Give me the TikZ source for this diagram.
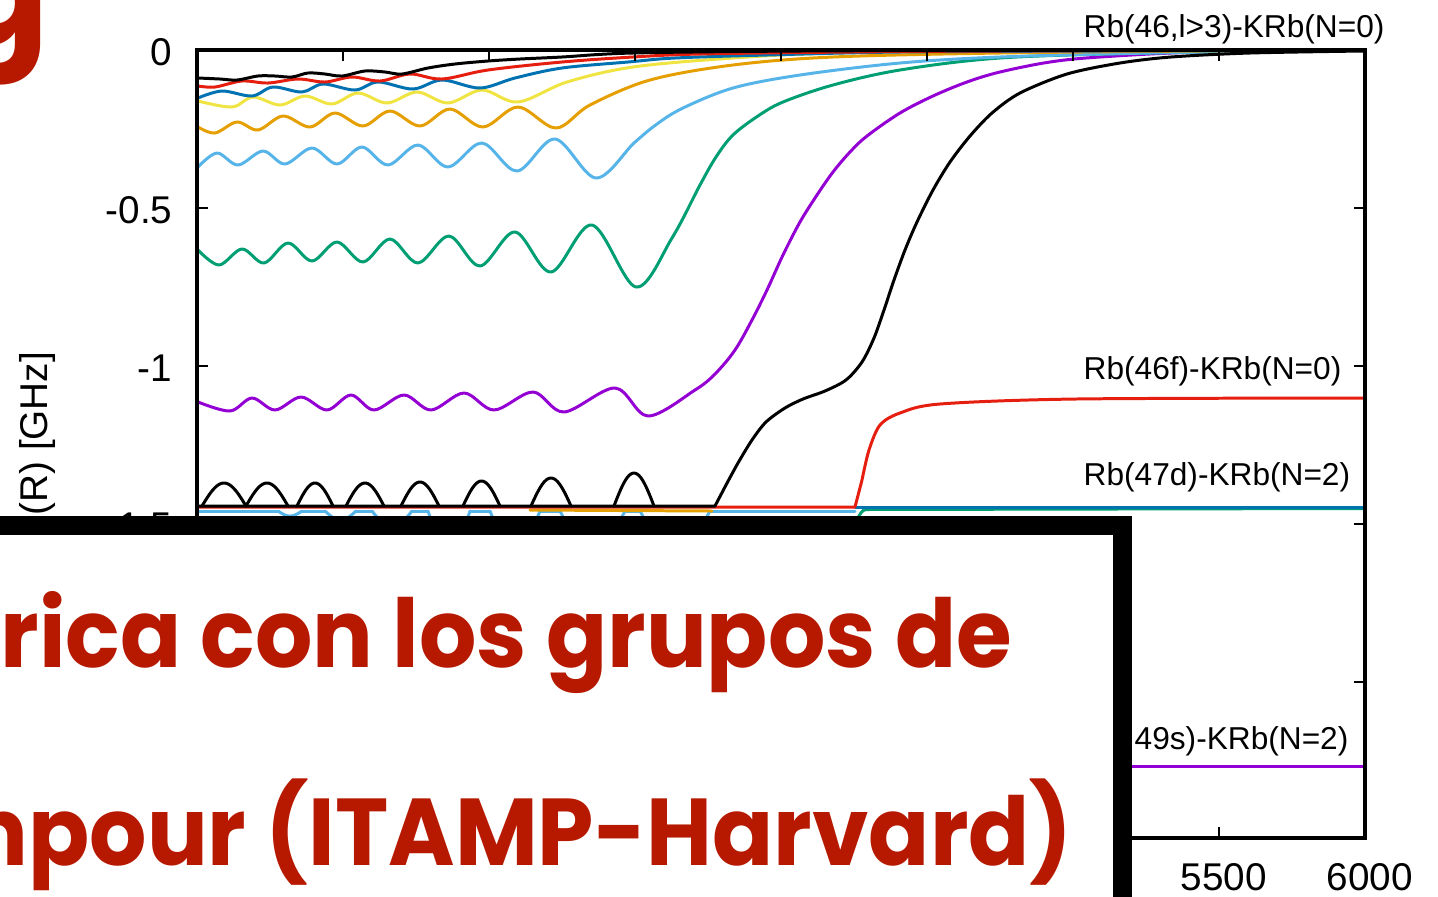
\documentclass[tikz,border=0pt]{standalone}
\usepackage{fontspec}
\setmainfont{Liberation Sans}
\newfontfamily\slidefont{Poppins}
\usetikzlibrary{positioning}
\definecolor{gpPurple}{HTML}{9400D3}
\definecolor{gpGreen}{HTML}{009E73}
\definecolor{gpSky}{HTML}{56B4E9}
\definecolor{gpOrange}{HTML}{E69F00}
\definecolor{gpYellow}{HTML}{F0E442}
\definecolor{gpBlue}{HTML}{0072B2}
\definecolor{gpRed}{HTML}{E51E10}
\definecolor{slidered}{RGB}{183,25,0}
\newcommand{\slidewide}[1]{\scalebox{0.95}[1]{#1}}
\tikzset{
  pot/.style={line width=0.85pt, line join=round, line cap=round},
  axisframe/.style={line width=1.15pt},
  tickmark/.style={line width=0.5pt},
  ticklabel/.style={inner sep=0pt, font=\fontsize{11}{13}\selectfont},
  curvelabel/.style={inner sep=0pt, anchor=west, font=\fontsize{9}{11}\selectfont},
  slidetext/.style={inner sep=0pt, anchor=base west, text=slidered,
    font=\slidefont\bfseries\fontsize{27}{32}\selectfont}
}

\begin{document}
\begin{tikzpicture}[x=0.01cm, y=-0.01cm]
  \useasboundingbox (0,0) rectangle (1438,896);
  \clip (0,0) rectangle (1438,896);

  % title remnant
  \node [inner sep=0pt, anchor=base east, text=slidered,
    font=\slidefont\bfseries\fontsize{42}{48}\selectfont] (title) at (50,44) {g};

  % tick labels
  \node [ticklabel, anchor=east] (y0) at (173,52) {0};
  \node [ticklabel, anchor=east] (y1) at (173,210) {-0.5};
  \node [ticklabel, anchor=east] (y2) at (173,368) {-1};
  \node [ticklabel, anchor=east] (y3) at (173,526) {-1.5};
  \node [ticklabel] (x5500) at (1224,877) {5500};
  \node [ticklabel] (x6000) at (1370,877) {6000};
  \node [ticklabel, rotate=90, anchor=west] (ylab) at (37,516) {(R) [GHz]};

  % lower flat levels
  \foreach \xa/\xb in {197/278, 302/325, 356/372, 412/428, 470/490, 540/560, 625/640, 710/855}
    \draw [pot, gpSky] (\xa,511) -- (\xb,511);
  \foreach \xa/\xb/\hb in {278/302/5, 325/356/9, 372/412/16, 428/470/40, 490/540/40, 560/625/40, 640/710/40}
    \draw [pot, gpSky] plot [domain=\xa:\xb, samples=21] (\x, {511+\hb*sin(180*(\x-\xa)/(\xb-\xa))});
  \draw [pot, gpOrange] (530,510) -- (712,511);
  \draw [pot, gpGreen] (853,524) to[out=-80,in=180] (866,509.5) -- (1363,508.5);
  \draw [pot, gpBlue] (855,507) -- (1363,507);
  \draw [pot, gpPurple] (1130,766) -- (1363,766);

  % upper curves
  \draw [pot, gpPurple] plot [smooth, tension=0.55] coordinates {(198,402) (230,411) (252,398) (275,410) (301,397) (327,410) (351,395) (374,410) (404,395) (431,410) (464,393) (494,410) (533,392) (564,412) (615,388) (648,416) (695,390) (715,374) (735,350) (752,320) (767,290) (783,255) (800,222) (817,195) (833,172) (850,152) (867,136) (900,113) (933,96) (967,82) (1000,72) (1050,62) (1100,57) (1200,52) (1363,50)};
  \draw [pot, gpGreen] plot [smooth, tension=0.55] coordinates {(198,250) (219,265) (242,249) (264,263) (288,243) (312,261) (337,242) (363,262) (390,239) (418,263) (449,236) (480,266) (515,232) (551,272) (592,225) (636,287) (672,238) (700,185) (716,157) (733,135) (758,116) (783,102) (833,85) (900,70) (1000,58) (1150,53) (1363,50)};
  \draw [pot, gpSky] plot [smooth, tension=0.55] coordinates {(198,167) (217,153) (238,165) (263,151) (285,164) (312,148) (337,164) (362,147) (388,165) (418,145) (448,167) (482,143) (517,171) (555,139) (596,178) (634,143) (657,124) (683,108) (733,88) (800,75) (900,63) (1000,57) (1150,53) (1363,50)};
  \draw [pot, gpOrange] plot [smooth, tension=0.55] coordinates {(198,127) (215,133) (237,122) (258,130) (283,116) (310,127) (335,113) (363,126) (390,111) (420,126) (450,109) (483,127) (518,107) (556,128) (590,105) (650,80) (733,65) (833,57) (1000,53) (1200,51) (1363,50)};
  \draw [pot, gpYellow] plot [smooth, tension=0.55] coordinates {(198,101) (232,107) (253,97) (280,105) (305,96) (332,104) (358,93) (387,103) (417,92) (448,103) (482,90) (518,102) (567,82) (633,67) (733,58) (833,53) (1000,51) (1363,50)};
  \draw [pot, gpBlue] plot [smooth, tension=0.55] coordinates {(198,98) (222,91) (252,96) (273,87) (302,92) (323,84) (355,90) (378,82) (413,89) (442,80) (480,88) (515,78) (562,68) (628,62) (675,58) (767,55) (900,52) (1100,51) (1363,50)};
  \draw [pot, gpRed] plot [smooth, tension=0.55] coordinates {(198,86) (215,87) (242,81) (268,83) (298,79) (325,82) (352,77) (380,81) (410,74) (442,79) (488,70) (562,62) (633,57) (700,54) (850,52) (1000,51) (1363,50)};
  \draw [pot] plot [smooth, tension=0.55] coordinates {(198,78) (220,79) (237,80) (258,76) (275,76) (292,77) (308,73) (325,74) (342,76) (365,71) (385,72) (402,74) (428,68) (455,64) (488,61) (520,59) (562,57) (633,53) (800,51) (1000,50.5) (1363,50)};

  % rising branches from the lower level
  \draw [pot, gpRed] (197,507) -- (855,507) -- plot [smooth, tension=0.5] coordinates {(862,480) (869,450) (880,425) (900,413) (940,404) (1076,399) (1363,398)};
  \draw [pot] (197,506) -- (715,506) -- plot [smooth, tension=0.5] coordinates {(726,485) (738,463) (752,440) (766,422) (785,408) (803,399) (825,391) (846,380) (862,362) (874,338) (884,310) (894,280) (905,250) (917,222) (933,190) (950,162) (970,136) (992,113) (1020,93) (1067,74) (1120,63) (1171,57) (1250,53) (1363,51)};
  \foreach \xa/\xb/\hb in {202/246/23, 246/288/23, 297/333/23, 346/384/23, 401/439/24, 463/500/25, 531/571/28, 614/654/33}
    \draw [pot] plot [domain=\xa:\xb, samples=25] (\x, {506-\hb*sin(180*(\x-\xa)/(\xb-\xa))});

  % frame and ticks
  \draw [axisframe] (197,50) rectangle (1365,838);
  \foreach \ty in {208, 366, 524, 682} {
    \draw [tickmark] (197,\ty) -- (208,\ty);
    \draw [tickmark] (1365,\ty) -- (1354,\ty);
  }
  \foreach \tx in {343, 489, 635, 781, 927, 1073, 1219} {
    \draw [tickmark] (\tx,50) -- (\tx,61);
    \draw [tickmark] (\tx,838) -- (\tx,827);
  }

  % curve labels
  \node [curvelabel] (lvlA) at (1083,29) {Rb(46,l>3)-KRb(N=0)};
  \node [curvelabel] (lvlB) at (1083,371) {Rb(46f)-KRb(N=0)};
  \node [curvelabel] (lvlC) at (1083,477) {Rb(47d)-KRb(N=2)};
  \node [curvelabel] (lvlD) at (1134,741) {49s)-KRb(N=2)};

  % overlaid text box
  \draw [line width=0.19cm, fill=white] (-60,525) rectangle (1122.5,960);
  \node [slidetext] (lineA) at (0,667) {\slidewide{rica con los grupos de}};
  \node [slidetext] (lineB) at (-33,865) {\slidewide{npour (ITAMP-Harvard)}};
\end{tikzpicture}
\end{document}
